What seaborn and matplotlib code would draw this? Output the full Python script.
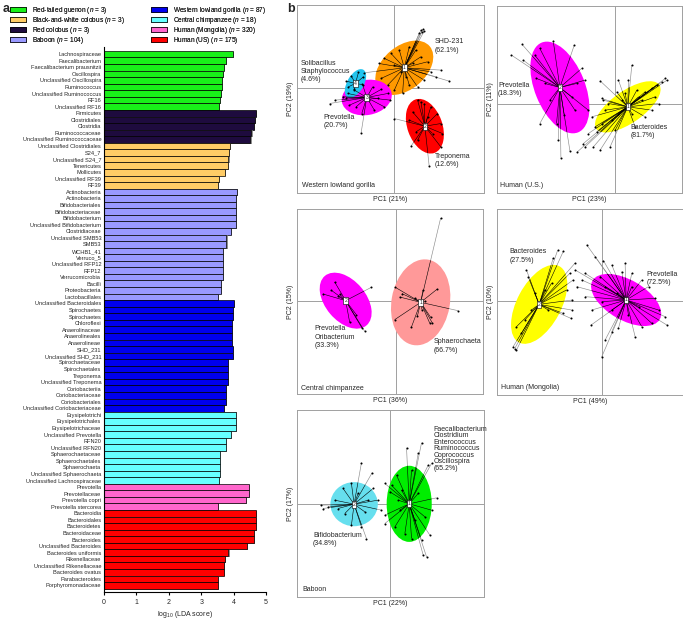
import numpy as np
import pandas as pd
import matplotlib
matplotlib.use('Agg')
import matplotlib.pyplot as plt
import seaborn as sns
from matplotlib.patches import Ellipse, Patch
from matplotlib.collections import LineCollection
import matplotlib.patheffects as pe

sns.set_theme(style='white')
plt.rcParams['font.family'] = ['Liberation Sans', 'DejaVu Sans']
plt.rcParams['mathtext.fontset'] = 'custom'
plt.rcParams['mathtext.rm'] = 'Liberation Sans'
plt.rcParams['mathtext.it'] = 'Liberation Sans:italic'

# ---------------- panel a data ----------------
TAXA = ["Lachnospiraceae", "Faecalibacterium", "Faecalibacterium prausnitzii", "Oscillospira",
        "Unclassified Oscillospira", "Ruminococcus", "Unclassified Ruminococcus", "RF16", "Unclassified RF16",
        "Firmicutes", "Clostridiales", "Clostridia", "Ruminococcaceae", "Unclassified Ruminococcaceae",
        "Unclassified Clostridiales", "S24_7", "Unclassified S24_7", "Tenericutes", "Mollicutes",
        "Unclassified RF39", "RF39",
        "Actinobacteria", "Actinobacteria", "Bifidobacteriales", "Bifidobacteriaceae", "Bifidobacterium",
        "Unclassified Bifidobacterium", "Clostridiaceae", "Unclassified SMB53", "SMB53", "WCHB1_41",
        "Verruco_5", "Unclassified RFP12", "RFP12", "Verrucomicrobia", "Bacilli", "Proteobacteria",
        "Lactobacillales",
        "Unclassified Bacteroidales", "Spirochaetes", "Spirochaetes", "Chloroflexi", "Anaerolinaceae",
        "Anaerolineales", "Anaerolineae", "SHD_231", "Unclassified SHD_231", "Spirochaetaceae",
        "Spirochaetales", "Treponema", "Unclassified Treponema", "Coriobacteriia", "Coriobacteriaceae",
        "Coriobacteriales", "Unclassified Coriobacteriaceae",
        "Erysipelotrichi", "Erysipelotrichales", "Erysipelotrichaceae", "Unclassified Prevotella", "RFN20",
        "Unclassified RFN20", "Sphaerochaetaceae", "Sphaerochaetales", "Sphaerochaeta",
        "Unclassified Sphaerochaeta", "Unclassified Lachnospiraceae",
        "Prevotella", "Prevotellaceae", "Prevotella copri", "Prevotella stercorea",
        "Bacteroidia", "Bacteroidales", "Bacteroidetes", "Bacteroidaceae", "Bacteroides",
        "Unclassified Bacteroides", "Bacteroides uniformis", "Rikenellaceae", "Unclassified Rikenellaceae",
        "Bacteroides ovatus", "Parabacteroides", "Porphyromonadaceae"]

LDA = [3.97, 3.76, 3.71, 3.68, 3.64, 3.63, 3.61, 3.57, 3.55,
       4.69, 4.67, 4.64, 4.55, 4.52,
       3.90, 3.85, 3.84, 3.82, 3.74, 3.55, 3.52,
       4.09, 4.08, 4.08, 4.08, 4.08, 4.08, 3.93, 3.78, 3.78, 3.68, 3.68, 3.68, 3.68, 3.68, 3.62, 3.62, 3.53,
       4.01, 3.97, 3.97, 3.96, 3.96, 3.96, 3.96, 3.97, 3.97, 3.82, 3.82, 3.82, 3.82, 3.76, 3.76, 3.76, 3.69,
       4.08, 4.08, 4.08, 3.93, 3.76, 3.76, 3.59, 3.59, 3.59, 3.59, 3.54,
       4.48, 4.48, 4.37, 3.53,
       4.70, 4.70, 4.70, 4.63, 4.63, 4.42, 3.84, 3.73, 3.71, 3.69, 3.53, 3.53]

BAR_GROUPS = ["Red-tailed guenon", "Red colobus", "Black-and-white colobus", "Baboon",
              "Western lowland gorilla", "Central chimpanzee", "Human (Mongolia)", "Human (US)"]
GROUP_SIZES = [9, 5, 7, 17, 17, 11, 4, 12]

LEGEND_GROUPS = ["Red-tailed guenon", "Black-and-white colobus", "Red colobus", "Baboon",
                 "Western lowland gorilla", "Central chimpanzee", "Human (Mongolia)", "Human (US)"]
LEGEND_N = [3, 3, 3, 104, 87, 18, 320, 175]
GROUP_COLORS = {"Red-tailed guenon": "#19f019", "Black-and-white colobus": "#ffcc66",
                "Red colobus": "#1e0b3e", "Baboon": "#9999ff",
                "Western lowland gorilla": "#0000ee", "Central chimpanzee": "#66ffff",
                "Human (Mongolia)": "#ff66cc", "Human (US)": "#ff0000"}

# ---------------- panel b data (PCA scores, picture units) ----------------
# Western lowland gorilla
GOR1_X = [80, 85, 90, 75, 83, -47, -30, -10, 15, 45, 65, 80, 100, 110, 125, 165, 140, 90, 70, 45, 25, 0, -20, -40, -90, 20, 0, 55, 35]
GOR1_Y = [175, 177, 172, 165, 169, 75, 90, 105, 115, 125, 115, 95, 80, 50, 35, 22, 55, 25, 5, 10, -15, -5, 10, 30, 47, 50, 70, 75, 35]
GOR2_X = [70, 80, 90, 55, 45, 0, 50, 70, 105, 140, 145, 140, 130, 110, 65, 115, 100]
GOR2_Y = [-35, -40, -45, -70, -95, -90, -173, -155, -233, -175, -135, -105, -75, -55, -130, -135, -85]
GOR3_X = [-195, -180, -155, -140, -120, -95, -65, -40, -20, -12, -30, -60, -98, -100, -115, -135, -75, -50, -145]
GOR3_Y = [-45, -35, -25, -15, -5, 10, 5, -3, -15, -35, -55, -65, -75, -133, -55, -50, -35, -30, -28]
GOR4_X = [-145, -130, -108, -93, -98, -120, -138]
GOR4_Y = [22, 38, 48, 35, 12, -2, 5]
GOR_CENTERS = [(30, 62), (92, -113), (-83, -27), (-117, 15)]
GOR_ELLIPSES = [(200, 130, 40), (170, 105, 110), (152, 105, 10), (95, 50, 60)]

# Human (U.S.)
US1_X = [150, 155, 140, 125, 110, 90, 70, 50, 40, 10, -45, -40, -35, -70, -60, -80, -95, -113, -90, -65,
         -45, -15, 0, 60, 90, 110, 130, 80, 10, 20, -10, 50, -30, -20, -55, 120, 65, 30, 5, -40]
US1_Y = [75, 70, 65, 55, 45, 35, 20, 115, 70, 70, 68, 15, 10, -40, -70, -90, -120, -145, -130, -130,
         -140, -130, -80, -70, -40, -20, 0, 10, -30, 10, -50, -30, -20, 0, -85, 20, 40, 30, 35, -60]
US2_X = [-278, -275, -310, -240, -225, -185, -122, -100, -90, -115, -80, -120, -152, -175, -225, -170, -162, -135, -210, -195, -235, -130]
US2_Y = [177, 130, 145, 145, 165, 188, 175, 105, 70, 60, -20, -20, -35, -60, -60, -110, -162, -142, 60, 10, 75, 20]
US_CENTERS = [(38, -10), (-165, 48)]
US_ELLIPSES = [(230, 96, 35), (290, 150, 112)]

# Central chimpanzee
CH1_X = [135, 125, 187, -1, 12, 19, -3, 47, 65, 79, 102, 105, 110, 87, 57, 82]
CH1_Y = [250, 37, -28, 42, 13, 23, -55, -78, -45, -25, -65, -48, -65, 0, 10, 33]
CH2_X = [-183, -193, -218, -168, -73, -93, -101, -138, -118, -173]
CH2_Y = [58, 33, 22, 22, 42, -90, -80, -63, -40, 15]
CH_CENTERS = [(75, -3), (-150, 2)]
CH_ELLIPSES = [(260, 175, 80), (194, 122, -50)]

# Human (Mongolia)
MO1_X = [-47, -22, 3, 28, 58, 88, 68, -82, -62, -77, -52, -32, -34, -2, 8, 28, 48, 98, 118, 148, 193, 188,
         168, 158, 138, 118, 8, 28, 78, 108, 43, -2, -7, 88, -52]
MO1_Y = [168, 133, 121, 108, 88, 83, 113, 93, 63, 43, 13, -27, -72, -167, -117, -92, -82, -107, -77, -67,
         -72, -47, -27, 8, 43, 63, 43, -27, -42, -17, 23, -2, 73, 43, 83]
MO2_X = [-134, -117, -147, -227, -222, -82, -97, -87, -90, -94, -117, -267, -257, -262, -242, -257, -172, -212, -152, -232, -162, -202, -92, -107]
MO2_Y = [151, 148, 128, 93, 73, 113, 83, 63, 3, -52, -37, -137, -147, -142, -97, -77, 33, -27, 53, -57, -27, 23, -27, 33]
MO_CENTERS = [(71, 3), (-189, -10)]
MO_ELLIPSES = [(232, 120, -30), (258, 132, 62)]

# Baboon
BA1_X = [49, 94, 84, 114, 124, 64, 19, -16, -1, 139, 124, -16, -16, 14, 44, 64, 99, 109, 94, 119, 4, 34, 84, 104, 29, 74, 24]
BA1_Y = [167, 182, 150, 115, 120, 100, 85, 60, 35, 17, -20, -35, -60, -70, -90, -105, -155, -160, -110, -95, 55, 40, 30, -40, -20, -50, 10]
BA2_X = [-86, -54, -51, -36, -26, -71, -86, -116, -208, -201, -186, -166, -141, -116, -96, -76, -136, -156, -66]
BA2_Y = [122, 92, 45, 10, -20, -105, -70, -65, -5, -15, -10, 10, 45, 60, 30, -25, -30, -15, 10]
BA_CENTERS = [(57, -1), (-108, -2)]
BA_ELLIPSES = [(135, 228, 0), (142, 132, 0)]

# ---------------- figure ----------------
W, H = 683, 620
fig = plt.figure(figsize=(W / 100, H / 100), dpi=100)


def fx(px):
    return px / W


def fy(py):
    return 1 - py / H


# ---- panel a ----
axa = fig.add_axes([fx(104), fy(592), fx(266) - fx(104), fy(47) - fy(592)])
groups = []
for g, n in zip(BAR_GROUPS, GROUP_SIZES):
    groups += [g] * n
df = pd.DataFrame({"pos": [str(i) for i in range(len(TAXA))], "score": LDA, "group": groups})
sns.barplot(data=df, x="score", y="pos", hue="group", hue_order=BAR_GROUPS, palette=GROUP_COLORS,
            orient="h", dodge=False, width=1.0, saturation=1, edgecolor="black", linewidth=0.5,
            legend=False, ax=axa, order=list(df["pos"]))
for p in axa.patches:
    p.set_path_effects([pe.SimplePatchShadow(offset=(0.8, -0.6), shadow_rgbFace="0.45", alpha=0.8), pe.Normal()])
axa.set_yticks(range(len(TAXA)))
axa.set_yticklabels(TAXA, fontsize=4.1)
axa.set_ylim(82.0, -1.1)
axa.set_xlim(0, 5)
axa.set_xticks(range(6))
axa.set_xticklabels([str(i) for i in range(6)], fontsize=5)
axa.set_xlabel(r"log$_{10}$ (LDA score)", fontsize=5, labelpad=2)
axa.set_ylabel("")
for s in ["top", "right"]:
    axa.spines[s].set_visible(False)
for s in ["left", "bottom"]:
    axa.spines[s].set_color("black")
    axa.spines[s].set_linewidth(0.8)
axa.tick_params(axis="x", length=2.5, width=0.8, pad=2.5, color="black", bottom=True)
axa.tick_params(axis="y", length=0, pad=2)

# legend
handles = [Patch(facecolor=GROUP_COLORS[g], edgecolor="black", linewidth=0.5) for g in LEGEND_GROUPS]
labels = [f"{g} ($n$ = {n})" for g, n in zip(LEGEND_GROUPS, LEGEND_N)]
for k, xpx in enumerate([10, 151]):
    lg = fig.legend(handles[4 * k:4 * k + 4], labels[4 * k:4 * k + 4], loc="upper left",
                    bbox_to_anchor=(fx(xpx), fy(5)), frameon=False, fontsize=4.7,
                    handlelength=2.5, handleheight=0.75, handletextpad=0.8, labelspacing=-0.15,
                    borderpad=0, borderaxespad=0)
    fig.add_artist(lg)

fig.text(fx(3), fy(3), "a", fontsize=9, fontweight="bold", va="top", ha="left")
fig.text(fx(287), fy(3), "b", fontsize=9, fontweight="bold", va="top", ha="left")

FS_B = 5.0


# ---- panel b ----
def pca_panel(rect, xlim, ylim, clusters, labels_txt, corner, pcx, pcy):
    ax = fig.add_axes(rect)
    ax.axhline(0, color="#a0a0a0", lw=0.7, zorder=0)
    ax.axvline(0, color="#a0a0a0", lw=0.7, zorder=0)
    for num, (xs, ys, ctr, ell, col) in clusters:
        segs = [[ctr, (x, y)] for x, y in zip(xs, ys)]
        ax.add_collection(LineCollection(segs, colors="#8c8c8c", linewidths=0.45, zorder=1))
        e = Ellipse(ctr, ell[0], ell[1], angle=ell[2], facecolor=col, edgecolor="none", zorder=2)
        ax.add_patch(e)
        inner = LineCollection(segs, colors="black", linewidths=0.4, zorder=3)
        ax.add_collection(inner)
        inner.set_clip_path(e)
        sns.scatterplot(x=xs, y=ys, color="black", s=2.2, linewidth=0, ax=ax, zorder=4)
        ax.text(ctr[0], ctr[1], str(num), fontsize=3.6, ha="center", va="center", zorder=5,
                bbox=dict(boxstyle="square,pad=0.18", fc="white", ec="black", lw=0.4))
    for txt, x, y, ls in labels_txt:
        ax.text(x, y, txt, fontsize=FS_B, ha="left", va="top", linespacing=ls, zorder=6)
    ax.text(corner[1], corner[2], corner[0], fontsize=FS_B, ha="left", va="center")
    ax.set_xlim(*xlim)
    ax.set_ylim(*ylim)
    ax.set_xticks([])
    ax.set_yticks([])
    ax.set_xlabel(pcx, fontsize=FS_B, labelpad=2.5)
    ax.set_ylabel(pcy, fontsize=FS_B, labelpad=2.5)
    for s in ax.spines.values():
        s.set_color("#a0a0a0")
        s.set_linewidth(0.7)
        s.set_visible(True)
    return ax


pca_panel([fx(297), fy(193), fx(484) - fx(297), fy(5) - fy(193)], (-293, 270), (-313, 250),
          [(1, (GOR1_X, GOR1_Y, GOR_CENTERS[0], GOR_ELLIPSES[0], "#ff9900")),
           (2, (GOR2_X, GOR2_Y, GOR_CENTERS[1], GOR_ELLIPSES[1], "#ff0000")),
           (3, (GOR3_X, GOR3_Y, GOR_CENTERS[2], GOR_ELLIPSES[2], "#ff00ff")),
           (4, (GOR4_X, GOR4_Y, GOR_CENTERS[3], GOR_ELLIPSES[3], "#22c4ee"))],
          [("SHD-231\n(62.1%)", 122, 150, 1.3), ("Solibacillus\nStaphylococcus\n(4.6%)", -283, 85, 1.2),
           ("Prevotella\n(20.7%)", -213, -75, 1.3), ("Treponema\n(12.6%)", 122, -192, 1.3)],
          ("Western lowland gorilla", -278, -290), "PC1 (21%)", "PC2 (19%)")

pca_panel([fx(497), fy(193), fx(682) - fx(497), fy(6) - fy(193)], (-353, 200), (-268, 292),
          [(1, (US1_X, US1_Y, US_CENTERS[0], US_ELLIPSES[0], "#ffff00")),
           (2, (US2_X, US2_Y, US_CENTERS[1], US_ELLIPSES[1], "#ff00ff"))],
          [("Prevotella\n(18.3%)", -350, 65, 1.3), ("Bacteroides\n(81.7%)", 47, -60, 1.3)],
          ("Human (U.S.)", -345, -245), "PC1 (23%)", "PC2 (11%)")

pca_panel([fx(297), fy(394), fx(483) - fx(297), fy(209) - fy(394)], (-296, 262), (-278, 277),
          [(1, (CH1_X, CH1_Y, CH_CENTERS[0], CH_ELLIPSES[0], "#ff9999")),
           (2, (CH2_X, CH2_Y, CH_CENTERS[1], CH_ELLIPSES[1], "#ff00ff"))],
          [("Prevotella\nOribacterium\n(33.3%)", -243, -72, 1.25), ("Sphaerochaeta\n(66.7%)", 114, -110, 1.3)],
          ("Central chimpanzee", -283, -260), "PC1 (36%)", "PC2 (15%)")

pca_panel([fx(497), fy(395), fx(683) - fx(497), fy(209) - fy(395)], (-315, 241), (-281, 275),
          [(1, (MO1_X, MO1_Y, MO_CENTERS[0], MO_ELLIPSES[0], "#ff00ff")),
           (2, (MO2_X, MO2_Y, MO_CENTERS[1], MO_ELLIPSES[1], "#ffff00"))],
          [("Bacteroides\n(27.5%)", -277, 158, 1.3), ("Prevotella\n(72.5%)", 131, 91, 1.3)],
          ("Human (Mongolia)", -302, -260), "PC1 (49%)", "PC2 (10%)")

pca_panel([fx(297), fy(597), fx(484) - fx(297), fy(410) - fy(597)], (-279, 281), (-280, 280),
          [(1, (BA1_X, BA1_Y, BA_CENTERS[0], BA_ELLIPSES[0], "#00ee00")),
           (2, (BA2_X, BA2_Y, BA_CENTERS[1], BA_ELLIPSES[1], "#66dfee"))],
          [("Faecalibacterium\nClostridium\nEnterococcus\nRuminococcus\nCoprococcus\nOscillospira\n(65.2%)", 129, 233, 0.9),
           ("Bifidobacterium\n(34.8%)", -231, -85, 1.3)],
          ("Baboon", -264, -258), "PC1 (22%)", "PC2 (17%)")

fig.savefig("out.png", dpi=100)
